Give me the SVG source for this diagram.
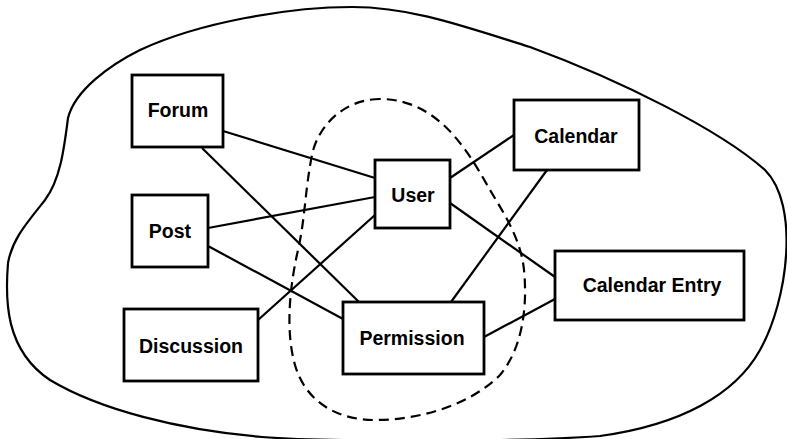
<svg xmlns="http://www.w3.org/2000/svg" width="787" height="439" viewBox="0 0 787 439">
<style>
.blob{fill:none;stroke:#000;stroke-width:2.2}
.dash{fill:none;stroke:#000;stroke-width:2.2;stroke-dasharray:10 6}
.edge{stroke:#000;stroke-width:2.2;fill:none}
.box{fill:#fff;stroke:#000;stroke-width:2.8}
.lbl{font-family:"Liberation Sans",Arial,sans-serif;font-weight:bold;font-size:19.5px;fill:#000;text-anchor:middle}
</style>
<rect width="787" height="439" fill="#fff"/>
<path class="blob" d="M352,7 C410,7 460,25 530,47 C620,80 720,130 765,170 C800,205 788,300 760,350 C735,395 680,425 600,436 C520,442 330,442 262,437 C180,430 100,410 50,380 C5,350 5,300 8,263 C12,240 25,225 45,200 C60,180 64,150 68,118 C75,90 110,65 140,50 C200,22 290,7 352,7 Z"/>
<path class="dash" d="M380,99 C345,99 318,125 312,155 C305,190 305,220 298,250 C290,285 285,330 295,365 C305,400 335,420 375,420 C420,420 470,405 500,375 C525,345 527,300 524,270 C521,240 505,215 490,190 C470,155 440,99 380,99 Z"/>
<g id="connectors">
<line class="edge" x1="223" y1="131" x2="375" y2="178"/>
<line class="edge" x1="202" y1="148" x2="359" y2="302"/>
<line class="edge" x1="208" y1="228" x2="375" y2="197"/>
<line class="edge" x1="208" y1="246" x2="343" y2="319"/>
<line class="edge" x1="258" y1="320" x2="375" y2="215"/>
<line class="edge" x1="450" y1="178" x2="514" y2="135"/>
<line class="edge" x1="450" y1="203" x2="555" y2="277"/>
<line class="edge" x1="547" y1="170" x2="451" y2="302"/>
<line class="edge" x1="484" y1="337" x2="555" y2="299"/>
</g>
<g id="forum"><rect class="box" x="132" y="75" width="91" height="72"/><text class="lbl" x="178" y="117">Forum</text></g>
<g id="post"><rect class="box" x="132" y="195" width="76" height="72"/><text class="lbl" x="170" y="238">Post</text></g>
<g id="discussion"><rect class="box" x="124" y="309" width="134" height="72"/><text class="lbl" x="191" y="353">Discussion</text></g>
<g id="user"><rect class="box" x="375" y="160" width="75" height="68"/><text class="lbl" x="413" y="202">User</text></g>
<g id="permission"><rect class="box" x="343" y="302" width="141" height="72"/><text class="lbl" x="412" y="345">Permission</text></g>
<g id="calendar"><rect class="box" x="514" y="100" width="125" height="70"/><text class="lbl" x="576" y="143">Calendar</text></g>
<g id="calendar-entry"><rect class="box" x="555" y="251" width="189" height="69"/><text class="lbl" x="652" y="292">Calendar Entry</text></g>
</svg>
